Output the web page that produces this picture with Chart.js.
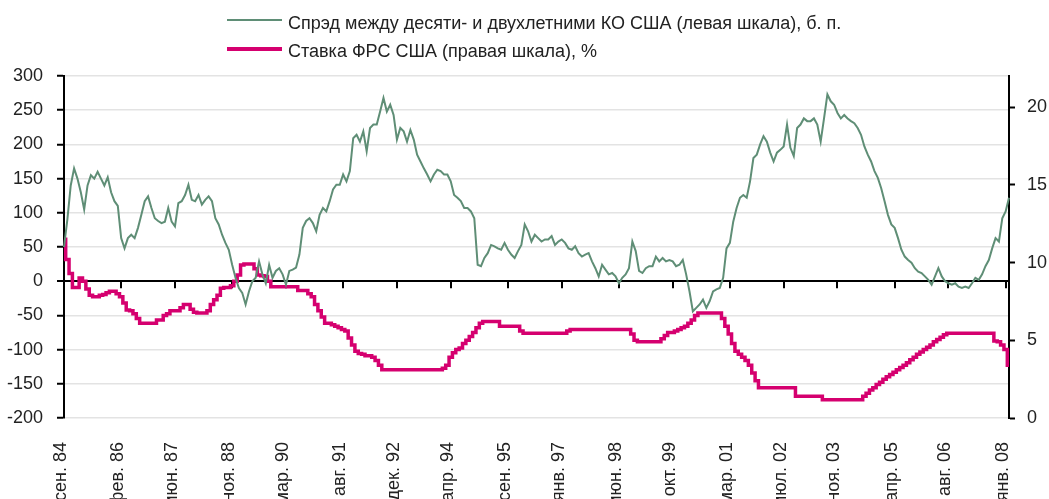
<!DOCTYPE html>
<html lang="ru">
<head>
<meta charset="utf-8">
<script src="https://cdn.jsdelivr.net/npm/chart.js@4.4.0/dist/chart.umd.min.js"></script>
<style>
  html, body { margin: 0; padding: 0; background: #fff; }
  #wrap { position: relative; width: 1049px; height: 499px; overflow: hidden; }
  #grafico { position: absolute; left: 0; top: 0; }
  .legenda { position: absolute; left: 227px; top: 9px; font: 18px "Liberation Sans", Arial, sans-serif; color: #222; }
  .item { position: relative; height: 28px; line-height: 28px; padding-left: 61px; white-space: nowrap; }
  .item i { position: absolute; left: 0; width: 55px; }
</style>
</head>
<body>
<div id="wrap">
  <canvas id="grafico" width="1049" height="499"></canvas>
  <div class="legenda" id="legenda"></div>
</div>
<script>
// meses: set. 1984 .. fev. 2008, um ponto por mes
const nomesMes = ['янв.', 'фев.', 'мар.', 'апр.', 'май', 'июн.', 'июл.', 'авг.', 'сен.', 'окт.', 'ноя.', 'дек.'];
const meses = [];
for (let a = 1984; a <= 2008; a++) {
    for (let m = 0; m < 12; m++) {
        if (a === 1984 && m < 8) continue;
        if (a === 2008 && m > 1) continue;
        meses.push(nomesMes[m] + ' ' + String(a).slice(2));
    }
}

// rotulos que aparecem no eixo x
const rotulosX = ['сен. 84', 'фев. 86', 'июн. 87', 'ноя. 88', 'мар. 90', 'авг. 91', 'дек. 92', 'апр. 94', 'сен. 95',
    'янв. 97', 'июн. 98', 'окт. 99', 'мар. 01', 'июл. 02', 'ноя. 03', 'апр. 05', 'авг. 06', 'янв. 08'];

// спрэд 10 лет - 2 года, б. п. (escala esquerda)
const spread = [
    50, 90, 140, 165, 150, 130, 105, 140, 155, 150, 160,
    150, 140, 152, 130, 117, 110, 63, 48, 63, 68,
    63, 78, 97, 117, 124, 107, 92, 88, 85, 87,
    107, 87, 80, 114, 117, 126, 141, 119, 117, 126,
    112, 119, 124, 117, 92, 83, 68, 56, 46, 24,
    5, -10, -17, -34, -15, 0, 5, 29, 10, -3,
    24, 5, 15, 19, 10, -5, 15, 17, 20, 39,
    78, 88, 92, 85, 73, 97, 107, 102, 117, 134,
    141, 141, 156, 146, 161, 209, 214, 204, 219, 190,
    224, 229, 229, 248, 268, 248, 258, 243, 207, 224,
    219, 204, 221, 207, 185, 175, 165, 156, 146, 156,
    163, 161, 156, 156, 146, 126, 122, 117, 107, 107,
    102, 92, 24, 22, 34, 41, 53, 51, 48, 46,
    56, 46, 39, 34, 44, 53, 83, 73, 58, 68,
    63, 58, 61, 61, 66, 53, 58, 61, 56, 48,
    46, 51, 41, 36, 39, 41, 29, 19, 7, 24,
    17, 10, 12, 7, -3, 5, 10, 19, 58, 44,
    15, 12, 19, 22, 22, 36, 29, 34, 29, 31,
    29, 22, 24, 31, 10, -15, -44, -39, -34, -27,
    -39, -29, -15, -12, -10, 5, 48, 56, 87, 107,
    122, 126, 122, 146, 180, 185, 200, 212, 204, 188,
    175, 188, 192, 197, 229, 195, 183, 224, 229, 238,
    234, 234, 238, 229, 204, 238, 273, 263, 258, 246,
    238, 243, 238, 234, 231, 224, 214, 197, 185, 175,
    161, 151, 136, 117, 97, 83, 78, 63, 46, 36,
    31, 27, 19, 14, 12, 7, 2, -5, 7, 19,
    7, 0, -3, -5, -3, -8, -10, -8, -10, -3,
    5, 2, 10, 22, 31, 48, 63, 58, 92, 102, 122
];

// ставка ФРС, % (escala direita)
const fedRate = [
    11.5, 10.2, 9.3, 8.4, 8.4, 9.0, 8.8, 8.3, 7.9, 7.8, 7.8,
    7.9, 7.95, 8.05, 8.15, 8.15, 8.0, 7.8, 7.4, 6.95, 6.9,
    6.7, 6.4, 6.1, 6.1, 6.1, 6.1, 6.1, 6.3, 6.3, 6.6,
    6.7, 6.9, 6.9, 6.9, 7.1, 7.3, 7.3, 7.0, 6.8, 6.75,
    6.75, 6.75, 6.9, 7.3, 7.6, 7.9, 8.35, 8.4, 8.4, 8.5,
    8.8, 9.2, 9.85, 9.9, 9.9, 9.9, 9.6, 9.2, 9.15, 9.1,
    8.8, 8.45, 8.45, 8.45, 8.45, 8.45, 8.45, 8.45, 8.45, 8.2,
    8.2, 8.2, 8.0, 7.8, 7.3, 6.9, 6.5, 6.1, 6.1, 6.0,
    5.9, 5.8, 5.7, 5.6, 5.15, 4.7, 4.3, 4.15, 4.1, 4.0,
    4.0, 3.9, 3.7, 3.4, 3.1, 3.1, 3.1, 3.1, 3.1, 3.1,
    3.1, 3.1, 3.1, 3.1, 3.1, 3.1, 3.1, 3.1, 3.1, 3.1,
    3.1, 3.1, 3.2, 3.4, 3.9, 4.2, 4.4, 4.5, 4.8, 5.0,
    5.25, 5.5, 5.8, 6.1, 6.2, 6.2, 6.2, 6.2, 6.2, 5.9,
    5.9, 5.9, 5.9, 5.9, 5.9, 5.6, 5.45, 5.45, 5.45, 5.45,
    5.45, 5.45, 5.45, 5.45, 5.45, 5.45, 5.45, 5.45, 5.45, 5.6,
    5.7, 5.7, 5.7, 5.7, 5.7, 5.7, 5.7, 5.7, 5.7, 5.7,
    5.7, 5.7, 5.7, 5.7, 5.7, 5.7, 5.7, 5.7, 5.4, 5.0,
    4.9, 4.9, 4.9, 4.9, 4.9, 4.9, 4.9, 5.1, 5.3, 5.5,
    5.5, 5.6, 5.7, 5.8, 5.9, 6.1, 6.3, 6.6, 6.75, 6.75,
    6.75, 6.75, 6.75, 6.75, 6.75, 6.4, 5.9, 5.4, 4.8, 4.3,
    4.1, 3.9, 3.7, 3.4, 2.9, 2.4, 1.95, 1.95, 1.95, 1.95,
    1.95, 1.95, 1.95, 1.95, 1.95, 1.95, 1.95, 1.4, 1.4, 1.4,
    1.4, 1.4, 1.4, 1.4, 1.4, 1.18, 1.18, 1.18, 1.18, 1.18,
    1.18, 1.18, 1.18, 1.18, 1.18, 1.18, 1.18, 1.4, 1.6, 1.8,
    1.95, 2.15, 2.3, 2.5, 2.65, 2.8, 2.95, 3.1, 3.25, 3.4,
    3.55, 3.75, 3.9, 4.1, 4.25, 4.4, 4.55, 4.7, 4.9, 5.05,
    5.2, 5.35, 5.45, 5.45, 5.45, 5.45, 5.45, 5.45, 5.45, 5.45,
    5.45, 5.45, 5.45, 5.45, 5.45, 5.45, 4.95, 4.9, 4.7, 4.4, 3.4
];

const corSpread = '#5f8e76';
const corFed = '#d5006f';

Chart.defaults.font.family = '"Liberation Sans", Arial, sans-serif';
Chart.defaults.font.size = 18;
Chart.defaults.color = '#222';

// pequenas marcas do eixo x sobre a linha do zero
const marcasNoZero = {
    id: 'marcasNoZero',
    beforeDatasetsDraw(chart) {
        const sx = chart.scales.x;
        const y0 = chart.scales.y.getPixelForValue(0);
        const c = chart.ctx;
        c.save();
        c.strokeStyle = '#000';
        c.lineWidth = 2;
        rotulosX.forEach((r) => {
            let i = meses.indexOf(r);
            if (i <= 0) return;
            let px = Math.round(sx.getPixelForValue(i));
            c.beginPath();
            c.moveTo(px, y0);
            c.lineTo(px, y0 + 7);
            c.stroke();
        });
        c.restore();
    }
};

let ctx = document.getElementById('grafico');

let grafico = new Chart(ctx, {
    type: 'line',
    data: {
        labels: meses,
        datasets: [{
            label: 'Спрэд между десяти- и двухлетними КО США (левая шкала), б. п.',
            data: spread,
            yAxisID: 'y',
            borderColor: corSpread,
            borderWidth: 2,
            pointRadius: 0,
            tension: 0
        },
        {
            label: 'Ставка ФРС США (правая шкала), %',
            data: fedRate,
            yAxisID: 'y2',
            borderColor: corFed,
            borderWidth: 3.5,
            pointRadius: 0,
            stepped: 'middle'
        }]
    },
    options: {
        responsive: false,
        animation: false,
        devicePixelRatio: 1,
        layout: { padding: { top: 76, left: 0, right: 0, bottom: 0 } },
        plugins: {
            legend: { display: false },
            tooltip: { enabled: false }
        },
        scales: {
            x: {
                grid: { display: false },
                border: { display: false },
                ticks: {
                    autoSkip: false,
                    maxRotation: 90,
                    minRotation: 90,
                    padding: 16,
                    labelOffset: -3,
                    callback: function (v, i) {
                        return rotulosX.includes(meses[i]) ? meses[i] : '';
                    }
                },
                afterFit: (s) => { s.height = 81 }
            },
            y: {
                position: 'left',
                min: -200,
                max: 300,
                ticks: { stepSize: 50, padding: 14 },
                grid: {
                    color: (c) => c.tick.value === 0 ? '#000' : '#e3e3e3',
                    lineWidth: (c) => c.tick.value === 0 ? 2 : 1.5,
                    tickColor: '#000',
                    tickLength: 7,
                    tickWidth: 2
                },
                border: { color: '#000', width: 2 },
                afterFit: (s) => { s.width = 64 }
            },
            y2: {
                position: 'right',
                min: 0,
                max: 22,
                ticks: { stepSize: 5, padding: 12 },
                grid: { drawOnChartArea: false, tickColor: '#000', tickLength: 6, tickWidth: 2 },
                border: { color: '#000', width: 2 },
                afterBuildTicks: (s) => { s.ticks = s.ticks.filter((t) => t.value % 5 === 0) },
                afterFit: (s) => { s.width = 40 }
            }
        }
    },
    plugins: [marcasNoZero]
});

// legenda em html, uma serie por linha
let leg = document.getElementById('legenda');
grafico.data.datasets.forEach((d, n) => {
    let item = document.createElement('div');
    item.className = 'item';
    let linha = document.createElement('i');
    let esp = n === 0 ? 2 : 4;
    linha.style.top = (n === 0 ? 10 : 9.5) + 'px';
    linha.style.height = esp + 'px';
    linha.style.background = d.borderColor;
    item.appendChild(linha);
    item.appendChild(document.createTextNode(d.label));
    leg.appendChild(item);
});
</script>
</body>
</html>
